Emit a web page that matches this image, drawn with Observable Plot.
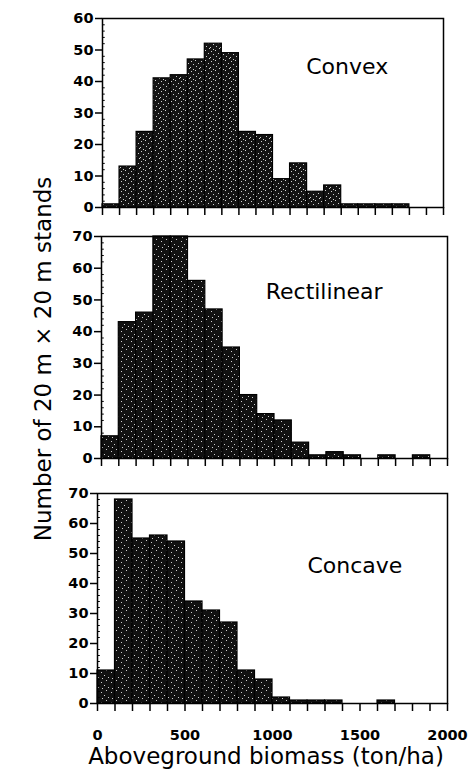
<!DOCTYPE html>
<html>
<head>
<meta charset="utf-8">
<script src="https://cdn.jsdelivr.net/npm/d3@7"></script>
<script src="https://cdn.jsdelivr.net/npm/@observablehq/plot@0.6"></script>
<style>
  html, body { margin: 0; padding: 0; background: #fff; }
  #chart { position: relative; width: 470px; height: 780px; background: #fff; font-family: "DejaVu Sans", sans-serif; color: #000; }
  #chart > .panel { position: absolute; left: 0; }
  #chart > .panel g[aria-label$="tick label"] { font-size: 14.5px !important; font-weight: bold; }
  .ytitle { position: absolute; left: 43px; top: 359px; transform: translate(-50%, -50%) rotate(-90deg); white-space: nowrap; font-size: 23px; }
  .xtitle { position: absolute; left: 0; width: 532px; top: 743px; text-align: center; font-size: 23px; white-space: nowrap; }
</style>
</head>
<body>
<svg width="0" height="0" style="position:absolute">
  <defs>
    <!-- halftone screens used to fill the bars -->
    <pattern id="screen" width="10" height="10" patternUnits="userSpaceOnUse">
      <rect width="10" height="10" fill="#111"/>
      <g fill="#fff" opacity="0.8">
        <rect x="1" y="2" width="1" height="1"/>
        <rect x="6" y="0" width="1" height="1"/>
        <rect x="4" y="5" width="1" height="1"/>
        <rect x="8" y="7" width="1" height="1"/>
        <rect x="2" y="8" width="1" height="1"/>
      </g>
    </pattern>
    <pattern id="screenLight" width="10" height="10" patternUnits="userSpaceOnUse">
      <rect width="10" height="10" fill="#141414"/>
      <g fill="#fff" opacity="0.8">
        <rect x="1" y="1" width="1" height="1"/>
        <rect x="5" y="0" width="1" height="1"/>
        <rect x="8" y="3" width="1" height="1"/>
        <rect x="3" y="4" width="1" height="1"/>
        <rect x="6" y="6" width="1" height="1"/>
        <rect x="0" y="7" width="1" height="1"/>
        <rect x="3" y="9" width="1" height="1"/>
        <rect x="9" y="8" width="1" height="1"/>
      </g>
    </pattern>
  </defs>
</svg>
<div id="chart"></div>
<script>
// Biomass classes (lower edge of each 100 ton/ha bin)
const binStarts = [0, 100, 200, 300, 400, 500, 600, 700, 800, 900,
                   1000, 1100, 1200, 1300, 1400, 1500, 1600, 1700, 1800, 1900];
const binWidth = 100;

// Number of stands per biomass class, by slope shape
const convex      = [1, 13, 24, 41, 42, 47, 52, 49, 24, 23, 9, 14, 5, 7, 1, 1, 1, 1, 0, 0];
const rectilinear = [7, 43, 46, 70, 70, 56, 47, 35, 20, 14, 12, 5, 1, 2, 1, 0, 1, 0, 1, 0];
const concave     = [11, 68, 55, 56, 54, 34, 31, 27, 11, 8, 2, 1, 1, 1, 0, 0, 1, 0, 0, 0];

const panelNames = ["Convex", "Rectilinear", "Concave"];
const xTickLabels = [0, 500, 1000, 1500, 2000];

const panels = [
  {name: panelNames[0], counts: convex, ymax: 60, top: 0, height: 219,
   margin: {top: 18, bottom: 12, left: 102, right: 27},
   label: {x: 1435, y: 44.7}, fill: "url(#screenLight)", labels: false},
  {name: panelNames[1], counts: rectilinear, ymax: 70, top: 219, height: 251,
   margin: {top: 17, bottom: 12, left: 101, right: 23},
   label: {x: 1287, y: 52.6}, fill: "url(#screen)", labels: false},
  {name: panelNames[2], counts: concave, ymax: 70, top: 470, height: 280,
   margin: {top: 23, bottom: 47, left: 97, right: 23},
   label: {x: 1471, y: 45.9}, fill: "url(#screen)", labels: true}
];

const chart = document.getElementById("chart");

for (const p of panels) {
  const bins = binStarts.map((x0, i) => ({x0, x1: x0 + binWidth, count: p.counts[i]}))
    .filter(d => d.count > 0);
  const majorY = d3.range(0, p.ymax + 1, 10);
  const minorY = d3.range(0, p.ymax + 1, 2).filter(v => v % 10 !== 0);

  const svg = Plot.plot({
    width: 470,
    height: p.height,
    marginTop: p.margin.top,
    marginBottom: p.margin.bottom,
    marginLeft: p.margin.left,
    marginRight: p.margin.right,
    style: {fontFamily: "DejaVu Sans, sans-serif", fontSize: "14px", fontWeight: "bold", color: "#000", background: "transparent"},
    x: {domain: [0, 2000]},
    y: {domain: [0, p.ymax]},
    marks: [
      Plot.rectY(bins, {x1: "x0", x2: "x1", y: "count", fill: p.fill, stroke: "#000", strokeWidth: 1.2, inset: 0}),
      Plot.ruleY(minorY, {y: d => d, x1: 0, x2: 16, stroke: "#000", strokeWidth: 1}),
      Plot.frame({stroke: "#000", strokeWidth: 1.5}),
      Plot.axisY({ticks: majorY, tickSize: 7, tickPadding: 2, label: null, fontSize: 14.5, fontWeight: "bold",
        stroke: "#000", strokeWidth: 1.5}),
      Plot.axisX({ticks: binStarts.concat([2000]), tickSize: 8, tickPadding: 18, label: null,
        fontSize: 14.5, fontWeight: "bold", stroke: "#000", strokeWidth: 1.5,
        tickFormat: d => (p.labels && xTickLabels.includes(d)) ? String(d) : ""}),
      Plot.text([p.name], {x: p.label.x, y: p.label.y, text: d => d, fontSize: 22, fontWeight: "normal", fill: "#000"})
    ]
  });
  svg.classList.add("panel");
  svg.style.top = p.top + "px";
  chart.appendChild(svg);
}

const yTitle = document.createElement("div");
yTitle.className = "ytitle";
yTitle.textContent = "Number of 20 m \u00d7 20 m stands";
chart.appendChild(yTitle);

const xTitle = document.createElement("div");
xTitle.className = "xtitle";
xTitle.textContent = "Aboveground biomass (ton/ha)";
chart.appendChild(xTitle);
</script>
</body>
</html>
